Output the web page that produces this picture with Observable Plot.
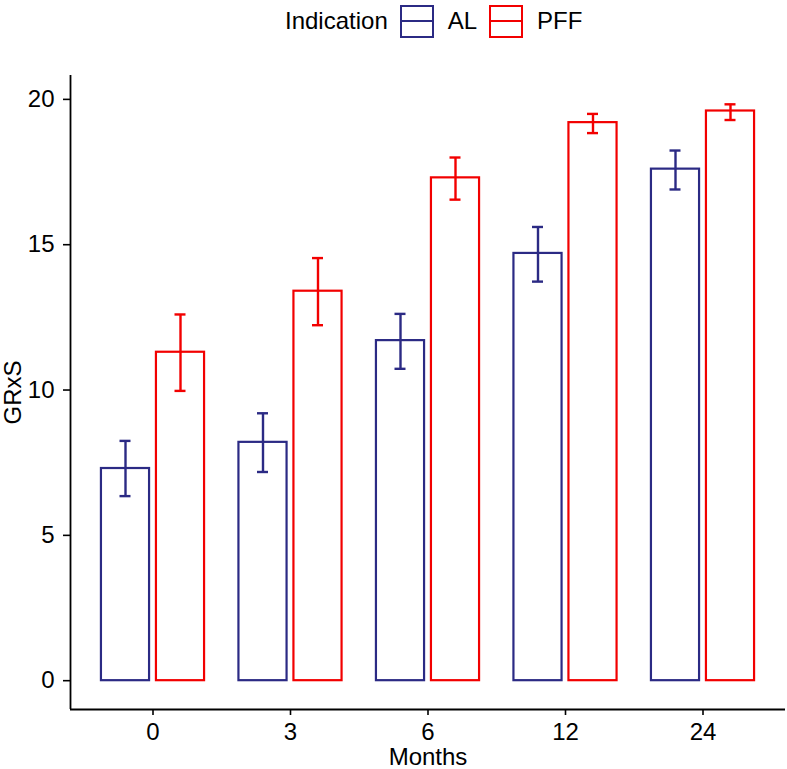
<!DOCTYPE html>
<html><head><meta charset="utf-8">
<script src="https://cdn.jsdelivr.net/npm/d3@7"></script>
<script src="https://cdn.jsdelivr.net/npm/@observablehq/plot@0.6"></script>
<style>
body{margin:0;background:#fff;font-family:"Liberation Sans",Arial,sans-serif;}
#legend{height:42px;display:flex;align-items:center;padding-left:285px;font-size:24px;color:#000;box-sizing:border-box;}
#legend .key{width:34px;height:33px;box-sizing:border-box;border:2px solid;position:relative;margin-left:12px;margin-right:14px;}
#legend .key::after{content:"";position:absolute;left:0;right:0;top:50%;height:2px;margin-top:-1px;background:currentColor;}
#chart svg{display:block;}
#chart svg text{font-size:24px !important;fill:#000;}
#chart svg g[aria-label="x-axis label"] text,
#chart svg g[aria-label="y-axis label"] text{font-size:24px !important;}
</style></head><body>
<div id="legend"></div>
<div id="chart"></div>
<script>
const months = ["0", "3", "6", "12", "24"];
const groups = ["AL", "PFF"];
const groupColors = ["#2B2A84", "#F20000"];
const legendTitle = "Indication";
const alMean = [7.3, 8.2, 11.7, 14.7, 17.6];
const alLow  = [6.35, 7.18, 10.73, 13.73, 16.9];
const alHigh = [8.25, 9.2, 12.62, 15.61, 18.24];
const pffMean = [11.3, 13.4, 17.3, 19.2, 19.6];
const pffLow  = [9.97, 12.23, 16.55, 18.84, 19.29];
const pffHigh = [12.6, 14.54, 18.0, 19.5, 19.83];
const yTicks = [0, 5, 10, 15, 20];

const dodge = 0.4, barWidth = 0.35, capWidth = 0.08;
const series = {AL: [alMean, alLow, alHigh], PFF: [pffMean, pffLow, pffHigh]};
const rows = [];
months.forEach((m, i) => groups.forEach((g, j) => {
  const [mean, lo, hi] = series[g];
  rows.push({month: m, group: g, mean: mean[i], lo: lo[i], hi: hi[i],
             pos: i + (j - (groups.length - 1) / 2) * dodge});
}));
const yMaxData = d3.max(rows, d => d.hi);
const yMin = -0.05 * yMaxData, yMax = yMaxData * 1.05;
const xMin = -0.6, xMax = months.length - 1 + 0.6;

// legend
const leg = document.getElementById("legend");
const t = document.createElement("span"); t.textContent = legendTitle; leg.appendChild(t);
groups.forEach((g, j) => {
  const k = document.createElement("span"); k.className = "key";
  k.style.color = groupColors[j]; k.style.borderColor = groupColors[j];
  leg.appendChild(k);
  const s = document.createElement("span"); s.textContent = g; leg.appendChild(s);
});

const chart = Plot.plot({
  width: 787, height: 727,
  marginLeft: 70, marginRight: 2, marginTop: 33, marginBottom: 60,
  style: {fontFamily: "Liberation Sans, Arial, sans-serif", fontSize: "24px", color: "#000", background: "#fff"},
  x: {domain: [xMin, xMax]},
  y: {domain: [yMin, yMax]},
  color: {domain: groups, range: groupColors},
  marks: [
    Plot.rectY(rows, {x1: d => d.pos - barWidth / 2, x2: d => d.pos + barWidth / 2, y1: 0, y2: "mean",
      stroke: "group", fill: "white", strokeWidth: 2.2}),
    Plot.ruleX(rows, {x: "pos", y1: "lo", y2: "hi", stroke: "group", strokeWidth: 2.4}),
    Plot.ruleY(rows, {x1: d => d.pos - capWidth / 2, x2: d => d.pos + capWidth / 2, y: "lo", stroke: "group", strokeWidth: 2.4}),
    Plot.ruleY(rows, {x1: d => d.pos - capWidth / 2, x2: d => d.pos + capWidth / 2, y: "hi", stroke: "group", strokeWidth: 2.4}),
    Plot.axisX({ticks: months.map((m, i) => i), tickFormat: i => months[i], tickSize: 6, tickPadding: 7,
      strokeWidth: 1.6, label: "Months", labelAnchor: "center", labelArrow: "none", labelOffset: 55}),
    Plot.axisY({ticks: yTicks, tickSize: 7, tickPadding: 9, strokeWidth: 1.6,
      label: "GRxS", labelAnchor: "center", labelArrow: "none"}),
    Plot.ruleX([xMin], {stroke: "#000", strokeWidth: 1.8}),
    Plot.ruleY([yMin], {stroke: "#000", strokeWidth: 1.8})
  ]
});
document.getElementById("chart").appendChild(chart);
</script>
</body></html>
